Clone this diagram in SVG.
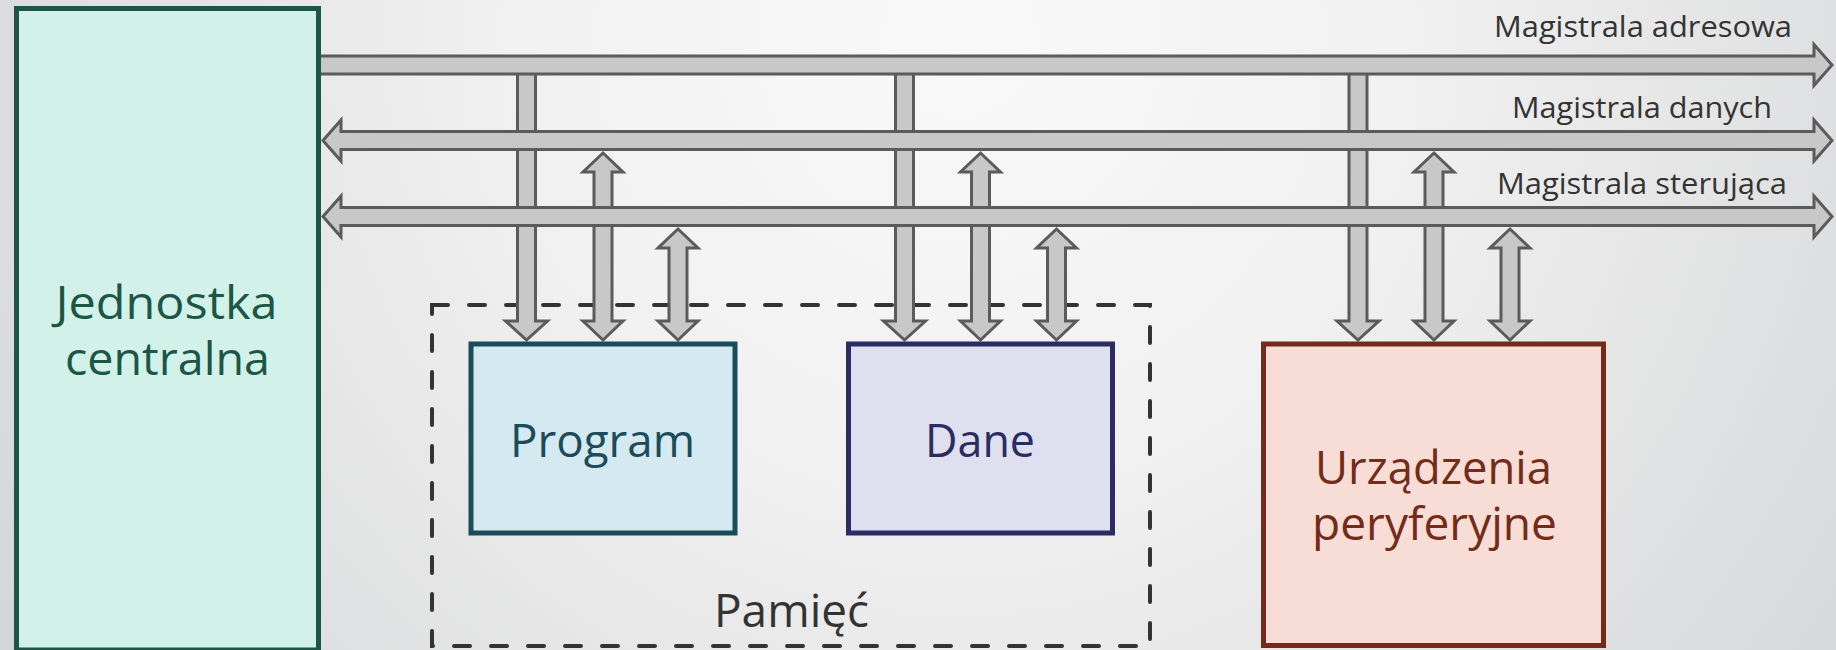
<svg xmlns="http://www.w3.org/2000/svg" width="1836" height="650" viewBox="0 0 1836 650">
  <defs>
    <radialGradient id="bg" gradientUnits="userSpaceOnUse" cx="960" cy="40" r="1250">
      <stop offset="0" stop-color="#f9f9f9"/>
      <stop offset="0.35" stop-color="#f1f1f1"/>
      <stop offset="1" stop-color="#d0d1d3"/>
    </radialGradient>
    <style>
      .lbl { font-family: "Open Sans", "Noto Sans", "DejaVu Sans", sans-serif; text-anchor: middle; }
      .bus { fill: #c8c8c8; stroke: #5b5b5b; stroke-width: 3; stroke-linejoin: miter; }
      .busname { font-size: 28.5px; fill: #333333; }
      .big { font-size: 45px; }
      .box { stroke-width: 5; }
      .group { fill: none; stroke: #333333; stroke-width: 4; stroke-dasharray: 16 21; stroke-linecap: round; }
    </style>
  </defs>

  <rect width="1836" height="650" fill="url(#bg)"/>

  <!-- memory container (dashed) -->
  <g id="pamiec">
    <rect class="group" x="432" y="305" width="718" height="341"/>
    <text class="lbl big" x="791.5" y="627" fill="#333333" textLength="155" lengthAdjust="spacingAndGlyphs">Pamięć</text>
  </g>

  <!-- vertical bus taps: drawn first so the buses sit on top of them -->
  <g id="connectors">
    <!-- address taps (one-way, down) -->
    <polygon class="bus" points="517.5,70 535.5,70 535.5,321 547.5,321 526.5,340 505.5,321 517.5,321"/>
    <polygon class="bus" points="895.5,70 913.5,70 913.5,321 925.5,321 904.5,340 883.5,321 895.5,321"/>
    <polygon class="bus" points="1349,70 1367,70 1367,321 1379,321 1358,340 1337,321 1349,321"/>
    <!-- data taps (two-way) -->
    <polygon class="bus" points="603,153 623,172 612,172 612,321 623,321 603,340 583,321 594,321 594,172 583,172"/>
    <polygon class="bus" points="980.5,153 1000.5,172 989.5,172 989.5,321 1000.5,321 980.5,340 960.5,321 971.5,321 971.5,172 960.5,172"/>
    <polygon class="bus" points="1434,153 1454,172 1443,172 1443,321 1454,321 1434,340 1414,321 1425,321 1425,172 1414,172"/>
    <!-- control taps (two-way) -->
    <polygon class="bus" points="678,229 698,248 687,248 687,321 698,321 678,340 658,321 669,321 669,248 658,248"/>
    <polygon class="bus" points="1056.5,229 1076.5,248 1065.5,248 1065.5,321 1076.5,321 1056.5,340 1036.5,321 1047.5,321 1047.5,248 1036.5,248"/>
    <polygon class="bus" points="1510,229 1530,248 1519,248 1519,321 1530,321 1510,340 1490,321 1501,321 1501,248 1490,248"/>

    <!-- address bus (one-way) -->
    <polygon class="bus" points="318,56 1814,56 1814,44.5 1832,65 1814,85.5 1814,74 318,74"/>
    <!-- data bus (two-way) -->
    <polygon class="bus" points="323,140.5 341,120 341,131.5 1814,131.5 1814,120 1832,140.5 1814,161 1814,149.5 341,149.5 341,161"/>
    <!-- control bus (two-way) -->
    <polygon class="bus" points="323,216.5 341,196 341,207.5 1814,207.5 1814,196 1832,216.5 1814,237 1814,225.5 341,225.5 341,237"/>

    <text class="lbl busname" x="1643" y="37" textLength="298" lengthAdjust="spacingAndGlyphs">Magistrala adresowa</text>
    <text class="lbl busname" x="1642" y="118" textLength="260" lengthAdjust="spacingAndGlyphs">Magistrala danych</text>
    <text class="lbl busname" x="1642" y="194" textLength="290" lengthAdjust="spacingAndGlyphs">Magistrala sterująca</text>
  </g>

  <g id="cpu">
    <rect class="box" x="16.5" y="8.5" width="302" height="641.5" fill="#d2f1e9" stroke="#1b5646"/>
    <text class="lbl big" x="166.5" y="319" fill="#1b5646" textLength="222" lengthAdjust="spacingAndGlyphs">Jednostka</text>
    <text class="lbl big" x="167.5" y="375" fill="#1b5646" textLength="205" lengthAdjust="spacingAndGlyphs">centralna</text>
  </g>

  <g id="program">
    <rect class="box" x="471" y="344" width="264" height="189" fill="#d5eaf0" stroke="#1b4c5c"/>
    <text class="lbl big" x="602.5" y="457" fill="#1b4c5c" textLength="185" lengthAdjust="spacingAndGlyphs">Program</text>
  </g>

  <g id="dane">
    <rect class="box" x="848.5" y="344" width="264" height="189" fill="#dfe0ef" stroke="#2b2c62"/>
    <text class="lbl big" x="980" y="457" fill="#2b2c62" textLength="110" lengthAdjust="spacingAndGlyphs">Dane</text>
  </g>

  <g id="peryferia">
    <rect class="box" x="1263.5" y="344" width="340" height="301.5" fill="#f7ddd6" stroke="#732c19"/>
    <text class="lbl big" x="1433.5" y="484" fill="#732c19" textLength="237" lengthAdjust="spacingAndGlyphs">Urządzenia</text>
    <text class="lbl big" x="1434.5" y="540" fill="#732c19" textLength="245" lengthAdjust="spacingAndGlyphs">peryferyjne</text>
  </g>
</svg>
